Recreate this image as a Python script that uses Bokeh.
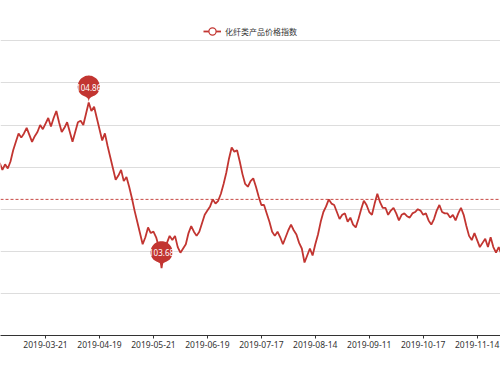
import math
import numpy as np
from bokeh.plotting import figure
from bokeh.models import FixedTicker, Legend, LegendItem, Span, Label
from bokeh.core.properties import value
from bokeh.embed import file_html
from bokeh.resources import INLINE

# ---------------- data ----------------
series_name = "化纤类产品价格指数"
tick_labels = ["2019-02-21", "2019-03-21", "2019-04-19", "2019-05-21", "2019-06-19",
               "2019-07-17", "2019-08-14", "2019-09-11", "2019-10-17", "2019-11-14"]
tick_step = 20          # one label every 20 trading days
first_index = 3         # first value read lies 3 trading days after 2019-02-21
values = [
    104.43, 104.38, 104.42, 104.39, 104.44, 104.52, 104.58, 104.64, 104.61, 104.64,
    104.68, 104.63, 104.58, 104.62, 104.65, 104.70, 104.67, 104.71, 104.75, 104.69,
    104.75, 104.80, 104.72, 104.65, 104.68, 104.72, 104.65, 104.58, 104.65, 104.72,
    104.73, 104.70, 104.78, 104.86, 104.80, 104.83, 104.75, 104.67, 104.59, 104.64,
    104.55, 104.47, 104.39, 104.31, 104.34, 104.38, 104.30, 104.33, 104.26, 104.18,
    104.09, 104.01, 103.93, 103.85, 103.90, 103.97, 103.93, 103.94, 103.90, 103.83,
    103.68, 103.81, 103.86, 103.91, 103.88, 103.91, 103.83, 103.79, 103.82, 103.85,
    103.93, 103.98, 103.94, 103.91, 103.94, 104.00, 104.06, 104.09, 104.12, 104.17,
    104.14, 104.16, 104.21, 104.28, 104.36, 104.46, 104.54, 104.51, 104.52, 104.44,
    104.35, 104.28, 104.26, 104.30, 104.32, 104.26, 104.19, 104.13, 104.13, 104.07,
    104.01, 103.94, 103.91, 103.94, 103.90, 103.85, 103.90, 103.95, 103.99, 103.95,
    103.92, 103.86, 103.82, 103.72, 103.77, 103.82, 103.77, 103.85, 103.92, 104.01,
    104.08, 104.12, 104.17, 104.14, 104.13, 104.08, 104.03, 104.06, 104.07, 104.01,
    104.04, 103.99, 103.97, 104.03, 104.10, 104.16, 104.13, 104.08, 104.06, 104.14,
    104.21, 104.15, 104.11, 104.11, 104.06, 104.09, 104.11, 104.07, 104.02, 104.06,
    104.07, 104.05, 104.04, 104.07, 104.08, 104.10, 104.09, 104.06, 104.07, 104.02,
    103.99, 104.03, 104.09, 104.13, 104.08, 104.07, 104.07, 104.04, 104.06, 104.02,
    104.07, 104.11, 104.06, 103.98, 103.91, 103.88, 103.93, 103.88, 103.83, 103.86,
    103.89, 103.83, 103.90, 103.83, 103.79, 103.83, 103.78,
]
average_value = 104.17
y_grid_values = [103.5, 103.8, 104.1, 104.4, 104.7, 105.0, 105.3]

# ---------------- styling / layout ----------------
RED = "#c23531"
W, H = 500, 368
BORDER_T, BORDER_B = 0, 33
FRAME_W, FRAME_H = W, H - BORDER_T - BORDER_B      # 500 x 335
PX_X = 2.6975                                      # pixels per category
PX_Y = 140.33                                      # pixels per index unit
X_START = 8.9 / PX_X
X_END = X_START + FRAME_W / PX_X
Y_START = 103.2
Y_END = Y_START + FRAME_H / PX_Y

x = list(range(first_index, first_index + len(values)))

p = figure(width=W, height=H, x_range=(X_START, X_END), y_range=(Y_START, Y_END),
           output_backend="svg", toolbar_location=None,
           min_border_left=0, min_border_right=0,
           min_border_top=BORDER_T, min_border_bottom=BORDER_B)
p.outline_line_color = None
p.yaxis.visible = False
p.xgrid.visible = False
p.ygrid.ticker = FixedTicker(ticks=y_grid_values)
p.ygrid.grid_line_color = "#dddddd"
p.ygrid.grid_line_width = 1

# x axis
LABEL_FONT_SIZE = "8.5px"
ax = p.xaxis[0]
ax.ticker = FixedTicker(ticks=[i * tick_step for i in range(len(tick_labels))])
ax.major_label_overrides = {i * tick_step: lab for i, lab in enumerate(tick_labels)}
ax.axis_line_color = "#333333"
ax.major_tick_line_color = "#333333"
ax.major_tick_out = 3
ax.major_tick_in = 0
ax.minor_tick_out = 0
ax.minor_tick_in = 0
ax.major_label_standoff = 2
ax.major_label_text_font = "Noto Sans"
ax.major_label_text_font_size = LABEL_FONT_SIZE
ax.major_label_text_color = "#333333"

# first category label, whose tick lies just left of the visible frame
p.add_layout(Label(x=0, y=Y_START, x_units="data", y_units="data", text=tick_labels[0],
                   y_offset=-5, text_align="center", text_baseline="top",
                   text_font="Noto Sans", text_font_size=LABEL_FONT_SIZE,
                   text_color="#333333"))

# average line
p.add_layout(Span(location=average_value, dimension="width", line_color=RED,
                  line_width=1, line_dash="3 2", line_alpha=0.9))

# series line
line_r = p.line(x, values, line_color=RED, line_width=1.8)
# legend icon (hollow circle); renderer itself hidden
icon_r = p.scatter(x, values, marker="circle", size=8, fill_color="white",
                   line_color=RED, line_width=1.2, visible=False)

# mark points (pins) for max / min
def bez(p0, p1, p2, p3, n=16):
    out = []
    for t in np.linspace(0, 1, n)[1:]:
        u = 1 - t
        out.append((u**3 * p0[0] + 3*u*u*t*p1[0] + 3*u*t*t*p2[0] + t**3 * p3[0],
                    u**3 * p0[1] + 3*u*u*t*p1[1] + 3*u*t*t*p2[1] + t**3 * p3[1]))
    return out

def pin_outline(px, py, wp=36.7, hp=32.6):
    r = wp * 3 / 10
    h = max(wp * 3 / 5, hp)
    dy = r * r / (h - r)
    cu = h - r - dy
    a = math.asin(dy / r)
    dx = math.cos(a) * r
    pts = [(r * math.cos(t), cu + r * math.sin(t)) for t in np.linspace(math.pi + a, -a, 48)]
    cp1, cp2 = 0.6 * r, 0.7 * r
    right = (dx, cu - dy)
    left = (-dx, cu - dy)
    pts += bez(right, (dx - math.sin(a) * cp1, cu - dy - math.cos(a) * cp1), (0, cp2), (0, 0))
    pts += bez((0, 0), (0, cp2), (-dx + math.sin(a) * cp1, cu - dy - math.cos(a) * cp1), left)
    xs = [float(px + q[0] / PX_X) for q in pts]
    ys = [float(py + q[1] / PX_Y) for q in pts]
    return xs, ys

for idx in (int(np.argmax(values)), int(np.argmin(values))):
    xv, yv = x[idx], values[idx]
    xs, ys = pin_outline(xv, yv)
    p.patch(xs, ys, fill_color=RED, line_color=None)
    p.text(x=[xv], y=[yv + 15.5 / PX_Y], text=[f"{yv:.2f}"], text_color="white",
           text_align="center", text_baseline="middle", text_font_size="8px",
           text_font=value("Noto Sans"))

legend = Legend(items=[LegendItem(label=series_name, renderers=[line_r, icon_r])],
                location="top_center", orientation="horizontal",
                border_line_alpha=0, background_fill_alpha=0,
                inactive_fill_alpha=0,
                label_text_font="Noto Sans CJK SC", label_text_font_size="8px",
                label_text_color="#333333", glyph_width=18, glyph_height=20,
                label_height=20, label_standoff=4, padding=0, margin=21, spacing=0)
p.add_layout(legend, "center")

open("out.html", "w").write(file_html(p, INLINE))
